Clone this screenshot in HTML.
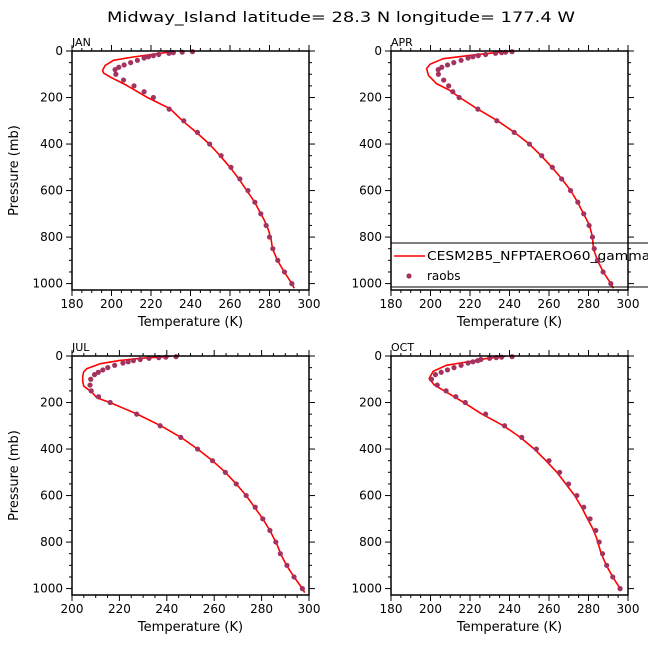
<!DOCTYPE html>
<html><head><meta charset="utf-8"><style>
html,body{margin:0;padding:0;background:#fff}
svg{display:block;font-family:"DejaVu Sans","Liberation Sans",sans-serif}
</style></head><body>
<svg id="chart" width="648" height="648" viewBox="0 0 648 648" xmlns="http://www.w3.org/2000/svg">
<text x="107" y="22" font-size="14" textLength="468" lengthAdjust="spacingAndGlyphs" fill="#000">Midway_Island  latitude= 28.3 N longitude= 177.4 W</text>
</svg>
<script>
const months = ["JAN","APR","JUL","OCT"];
const pressureLevels = [1000,950,900,850,800,750,700,650,600,550,500,450,400,350,300,250,200,175,150,125,100,80,70,60,50,40,30,25,20,15,10,7,5,3];
const obsJAN = [291.3,287.6,284.2,281.7,280.0,278.3,275.6,272.6,269.1,265.0,260.5,255.5,249.7,243.5,236.6,229.2,221.2,216.5,211.4,206.1,202.2,201.8,203.7,206.4,209.7,213.1,216.5,218.7,221.2,223.9,229.1,231.3,235.8,241.0];
const obsAPR = [291.3,287.4,284.5,282.9,282.0,280.3,277.6,274.6,270.9,266.4,261.7,256.3,250.1,242.4,233.6,224.0,214.5,211.3,209.2,206.7,204.0,203.9,205.7,208.6,211.8,215.5,219.0,221.5,224.2,227.9,232.9,236.0,238.0,241.3];
const obsJUL = [297.2,293.7,290.7,287.9,286.0,283.5,280.5,277.3,273.5,269.3,264.7,259.3,253.0,245.9,237.2,227.3,216.1,211.2,208.1,207.6,207.9,209.5,211.1,213.0,215.1,218.0,221.5,223.7,225.9,228.8,232.5,236.6,239.6,243.9];
const obsOCT = [296.0,292.3,289.2,287.1,285.4,283.7,280.8,277.6,274.1,269.9,265.4,260.0,253.6,246.2,237.5,227.9,217.6,212.8,207.9,203.4,200.5,202.5,205.4,208.6,211.9,215.5,219.0,221.5,223.9,225.5,229.9,233.3,236.0,241.3];
const modelJAN_T = [292.5,291.3,287.5,284,281.5,280.8,279.5,277.5,275,272.5,268.5,264.5,260,255,249.5,243,236,229.6,217.8,207.7,200,196,195.5,196.8,201,211,221,229.6,232];
const modelJAN_P = [1020,1000,950,900,850,810,770,730,690,650,600,550,500,450,400,350,300,248,198,148,115,95,83,62,40,26,14,4,0];
const modelAPR_T = [292.6,291.3,287.5,284.5,282.5,282,280.5,277.5,274.5,271,266.5,261.5,256,250,242.5,234,224,214.8,209.7,203,199,198,199.7,206.4,219.8,233.3,240.8];
const modelAPR_P = [1020,1000,950,900,850,800,750,700,650,600,550,500,450,400,350,300,250,200,169,140,105,76,57,33,19,7,1];
const modelJUL_T = [298.2,297.2,293.7,290.5,288,286.5,285.5,283.5,280.5,277,273.5,269.3,264.7,259.3,253,246,237.5,227.5,216,210.5,208.4,205,204.5,204.5,204.9,206.3,211.9,220.3,230.2,240,242];
const modelJUL_P = [1017,1000,950,900,850,810,790,750,700,650,600,550,500,450,400,350,300,250,200,180,155,130,110,90,69,54,33,19,9,3,0];
const modelOCT_T = [296.2,296,292.3,289,286.5,285,284,282,279.5,276.5,273,268.5,264,258.5,252.5,245.5,237,226,216.5,208,202,199.3,201.3,208,218.2,228.2,235,238];
const modelOCT_P = [1010,1000,950,900,850,810,780,740,700,650,600,550,500,450,400,350,300,250,198,155,125,97,66,40,26,11,4,1];
const xTicksA = [180,200,220,240,260,280,300];
const xTicksB = [200,220,240,260,280,300];
const yTicks = [0,200,400,600,800,1000];

const NS="http://www.w3.org/2000/svg";
const svg=document.getElementById('chart');
function mk(tag,attrs,parent){const e=document.createElementNS(NS,tag);for(const k in attrs)e.setAttribute(k,attrs[k]);(parent||svg).appendChild(e);return e;}

const panels=[
 {name:"JAN",x0:72,y0:51,xmin:180,xmax:300,ticks:xTicksA,obs:obsJAN,mT:modelJAN_T,mP:modelJAN_P,ytitle:true},
 {name:"APR",x0:391,y0:51,xmin:180,xmax:300,ticks:xTicksA,obs:obsAPR,mT:modelAPR_T,mP:modelAPR_P,legend:true},
 {name:"JUL",x0:72,y0:356,xmin:200,xmax:300,ticks:xTicksB,obs:obsJUL,mT:modelJUL_T,mP:modelJUL_P,ytitle:true},
 {name:"OCT",x0:391,y0:356,xmin:180,xmax:300,ticks:xTicksA,obs:obsOCT,mT:modelOCT_T,mP:modelOCT_P}
];
const W=237,H=239,P1000=232.6;
panels.forEach((pn,idx)=>{
  const g=mk('g',{});
  
  
  const xs=t=>pn.x0+(t-pn.xmin)/(pn.xmax-pn.xmin)*W;
  const ys=p=>pn.y0+p/1000*P1000;
  const cid='clip'+idx;
  const cp=mk('clipPath',{id:cid},g);
  mk('rect',{x:pn.x0,y:pn.y0,width:W,height:H},cp);
  for(let t=pn.xmin;t<=pn.xmax+0.01;t+=5){
    const major=(t-pn.xmin)%20===0;
    const L=major?6:3;const x=xs(t);
    const a=mk('line',{x1:x,x2:x,y1:pn.y0,y2:pn.y0-L,stroke:'#000','stroke-width':1},g);
    
    
    const b=mk('line',{x1:x,x2:x,y1:pn.y0+H,y2:pn.y0+H+L,stroke:'#000','stroke-width':1},g);
    
    
  }
  for(let p=0;p<=1000;p+=50){
    const major=p%200===0;const L=major?6:3;const y=ys(p);
    const a=mk('line',{x1:pn.x0,x2:pn.x0-L,y1:y,y2:y,stroke:'#000','stroke-width':1},g);
    
    
    const b=mk('line',{x1:pn.x0+W,x2:pn.x0+W+L,y1:y,y2:y,stroke:'#000','stroke-width':1},g);
    
    
  }
  pn.ticks.forEach(t=>{
    const tx=mk('text',{x:xs(t),y:pn.y0+H+18,'font-size':12,'text-anchor':'middle',fill:'#000'},g);
    
    
    tx.textContent=t;
  });
  yTicks.forEach(p=>{
    const tx=mk('text',{x:pn.x0-9,y:ys(p)+4,'font-size':12,'text-anchor':'end',fill:'#000'},g);
    
    
    tx.textContent=p;
  });
  const xt=mk('text',{x:pn.x0+W/2,y:pn.y0+H+36,'font-size':13,'text-anchor':'middle',fill:'#000'},g);
  
  
  xt.textContent='Temperature (K)';
  if(pn.ytitle){
    const cy=pn.y0+H/2;
    const yt=mk('text',{x:18,y:cy,'font-size':13,'text-anchor':'middle',fill:'#000',transform:'rotate(-90 18 '+cy+')'},g);
    
    
    yt.textContent='Pressure (mb)';
  }
  const lb=mk('text',{x:pn.x0,y:pn.y0-5,'font-size':11,fill:'#000'},g);
  
  
  lb.textContent=pn.name;
  let d='';
  pn.mT.forEach((t,i)=>{d+=(i?'L':'M')+xs(t).toFixed(1)+' '+ys(pn.mP[i]).toFixed(1);});
  const ln=mk('path',{d:d,fill:'none',stroke:'#ff0000','stroke-width':1.6,'stroke-linejoin':'round','clip-path':'url(#'+cid+')'},g);
  
  
  pn.obs.forEach((t,i)=>{
    const c=mk('circle',{cx:xs(t),cy:ys(pressureLevels[i]),r:2.6,fill:'#a3325e'},g);
    
    
  });
  const box=mk('rect',{x:pn.x0,y:pn.y0,width:W,height:H,fill:'none',stroke:'#000','stroke-width':1.5},g);
  
  
  if(pn.legend){
    const lg=mk('g',{},g);
    
    
    mk('line',{x1:pn.x0,x2:648,y1:243,y2:243,stroke:'#000','stroke-width':1},lg);
    mk('line',{x1:pn.x0,x2:648,y1:287,y2:287,stroke:'#000','stroke-width':1},lg);
    const e1=mk('line',{x1:394,x2:425,y1:256,y2:256,stroke:'#ff0000','stroke-width':1.6},lg);
    
    
    const t1=mk('text',{x:427,y:260,'font-size':12,fill:'#000',textLength:232,lengthAdjust:'spacingAndGlyphs'},lg);
    
    
    t1.textContent='CESM2B5_NFPTAERO60_gamma0';
    const e2=mk('circle',{cx:409,cy:276,r:2.6,fill:'#a3325e'},lg);
    
    
    const t2=mk('text',{x:427,y:280,'font-size':12,fill:'#000'},lg);
    
    
    t2.textContent='raobs';
  }
});
</script>
</body></html>
